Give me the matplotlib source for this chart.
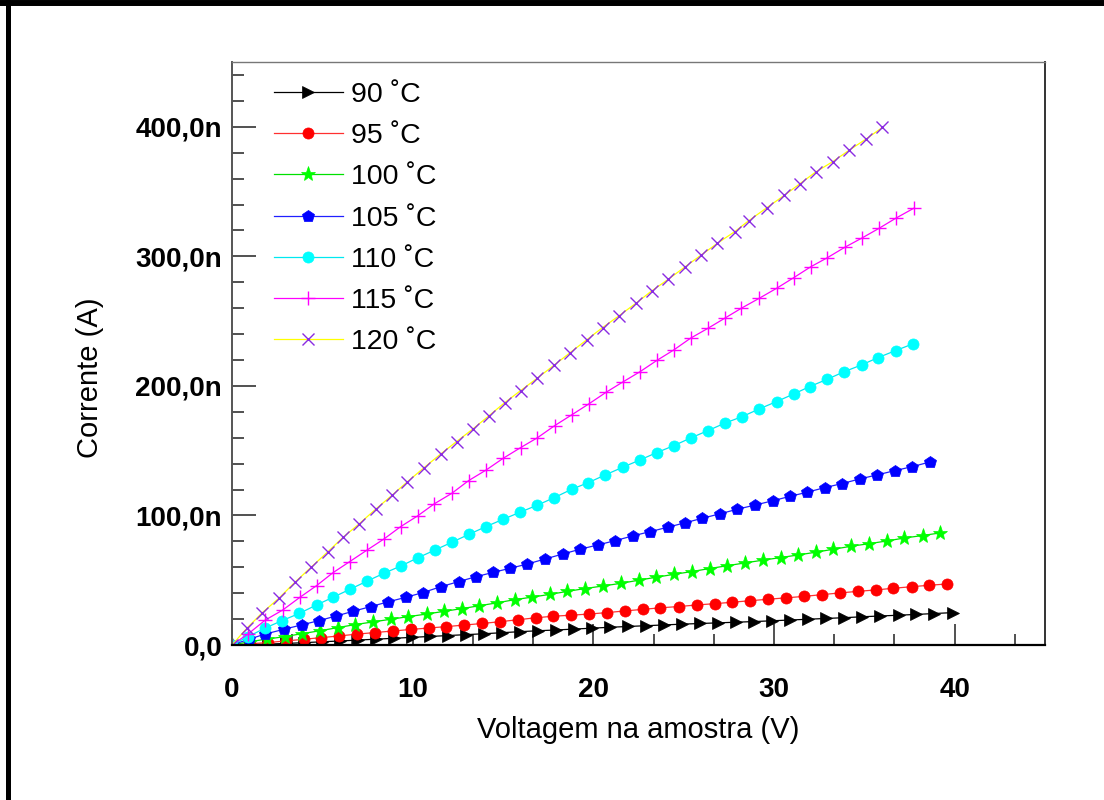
import matplotlib
matplotlib.use("Agg")
import matplotlib.pyplot as plt
from matplotlib.lines import Line2D
from matplotlib.ticker import MultipleLocator

plt.rcParams['font.family'] = ['Liberation Sans', 'DejaVu Sans']

# tensão na amostra (V) e corrente (nA) para cada temperatura
v90 = [0, 1.0, 2.0, 2.99, 3.99, 4.99, 5.98, 6.98, 7.98, 8.97, 9.97, 10.97, 11.96, 12.96,
       13.96, 14.95, 15.95, 16.95, 17.95, 18.94, 19.94, 20.94, 21.93, 22.93, 23.93, 24.92,
       25.92, 26.92, 27.91, 28.91, 29.91, 30.91, 31.9, 32.9, 33.9, 34.89, 35.89, 36.89,
       37.88, 38.88, 39.88]
i90 = [0, 0.3, 0.7, 1.2, 1.8, 2.5, 3.1, 3.8, 4.5, 5.2, 5.9, 6.6, 7.3, 8.0, 8.7, 9.5, 10.3,
       11.0, 11.6, 12.3, 13.0, 13.7, 14.3, 14.9, 15.5, 16.1, 16.6, 17.1, 17.6, 18.1, 18.7,
       19.3, 19.9, 20.5, 21.1, 21.8, 22.4, 23.0, 23.6, 24.3, 25.0]

v95 = [0, 0.99, 1.98, 2.97, 3.96, 4.95, 5.94, 6.92, 7.91, 8.9, 9.89, 10.88, 11.87, 12.86,
       13.85, 14.84, 15.83, 16.81, 17.77, 18.76, 19.77, 20.75, 21.75, 22.73, 23.71, 24.73,
       25.73, 26.71, 27.69, 28.69, 29.67, 30.65, 31.65, 32.67, 33.65, 34.63, 35.63, 36.61,
       37.62, 38.58, 39.57]
i95 = [0, 0.9, 1.9, 3.1, 4.4, 5.7, 7.0, 8.4, 9.6, 10.8, 12.0, 13.1, 14.2, 15.4, 16.6, 18.0,
       19.5, 21.0, 22.2, 23.0, 23.9, 25.0, 26.3, 27.5, 28.7, 29.7, 30.9, 31.9, 33.0, 34.2,
       35.3, 36.4, 37.5, 38.9, 40.2, 41.4, 42.5, 43.8, 45.0, 46.1, 47.1]

v100 = [0, 0.98, 1.96, 2.94, 3.9, 4.87, 5.85, 6.83, 7.8, 8.8, 9.77, 10.77, 11.75, 12.73,
        13.69, 14.65, 15.65, 16.63, 17.61, 18.57, 19.55, 20.55, 21.53, 22.51, 23.47, 24.45,
        25.45, 26.43, 27.41, 28.41, 29.39, 30.37, 31.34, 32.3, 33.28, 34.26, 35.26, 36.24,
        37.22, 38.22, 39.19]
i100 = [0, 2.6, 4.6, 6.5, 8.8, 11.0, 13.4, 15.8, 17.8, 19.9, 21.9, 23.9, 26.0, 28.1, 30.3,
        32.5, 35.0, 37.0, 39.1, 41.4, 43.6, 45.6, 47.6, 50.0, 52.3, 54.5, 56.7, 59.0, 61.2,
        63.4, 65.5, 67.5, 69.5, 71.6, 73.9, 76.2, 78.2, 80.3, 82.6, 84.5, 86.5]

v105 = [0, 0.95, 1.85, 2.87, 3.85, 4.81, 5.77, 6.7, 7.67, 8.64, 9.62, 10.58, 11.56, 12.54,
        13.5, 14.47, 15.39, 16.35, 17.33, 18.3, 19.26, 20.24, 21.22, 22.18, 23.14, 24.12,
        25.09, 26.03, 26.99, 27.97, 28.97, 29.95, 30.9, 31.83, 32.81, 33.77, 34.75, 35.71,
        36.69, 37.66, 38.64]
i105 = [0, 4.5, 8.5, 12.1, 15.5, 18.8, 22.4, 26.0, 29.6, 33.3, 36.8, 40.5, 45.0, 48.9, 52.7,
        56.1, 59.2, 62.5, 66.4, 70.2, 73.9, 77.2, 80.6, 84.2, 87.5, 90.9, 94.4, 97.8, 101.2,
        104.8, 108.1, 111.4, 114.8, 117.9, 121.5, 124.6, 128.2, 131.3, 134.6, 137.7, 141.3]

v110 = [0, 0.89, 1.81, 2.77, 3.73, 4.68, 5.59, 6.53, 7.49, 8.42, 9.38, 10.3, 11.25, 12.17,
        13.13, 14.06, 15.0, 15.95, 16.91, 17.83, 18.8, 19.72, 20.66, 21.63, 22.59, 23.51,
        24.46, 25.42, 26.35, 27.27, 28.24, 29.18, 30.14, 31.1, 31.98, 32.96, 33.89, 34.85,
        35.77, 36.74, 37.68]
i110 = [0, 6.4, 12.9, 18.8, 24.4, 30.9, 36.8, 43.0, 49.4, 55.4, 61.2, 67.4, 73.4, 79.3,
        85.5, 91.4, 97.0, 102.5, 108.0, 113.7, 120.2, 125.3, 131.3, 137.2, 142.9, 148.5,
        153.9, 160.0, 165.5, 171.2, 176.3, 182.2, 187.9, 193.8, 199.5, 205.2, 211.0, 216.2,
        221.9, 227.3, 232.4]

v115 = [0, 0.89, 1.85, 2.81, 3.76, 4.68, 5.59, 6.51, 7.49, 8.42, 9.34, 10.27, 11.19, 12.16,
        13.1, 14.06, 15.0, 15.98, 16.91, 17.87, 18.8, 19.74, 20.7, 21.63, 22.59, 23.51,
        24.46, 25.38, 26.35, 27.27, 28.2, 29.18, 30.14, 31.1, 32.04, 32.96, 33.92, 34.85,
        35.81, 36.75, 37.72]
i115 = [0, 8.5, 19.3, 27.0, 36.8, 45.8, 55.8, 64.3, 73.4, 81.9, 91.4, 99.6, 108.9, 117.0,
        126.9, 135.0, 144.0, 152.4, 160.0, 169.4, 177.6, 186.0, 195.0, 203.0, 211.0, 219.6,
        227.8, 236.8, 244.5, 252.2, 260.0, 267.6, 275.3, 283.6, 292.0, 299.0, 307.0, 314.0,
        321.6, 329.5, 337.0]

v120 = [0, 0.83, 1.66, 2.59, 3.48, 4.38, 5.31, 6.14, 7.03, 7.95, 8.88, 9.71, 10.64, 11.56,
        12.43, 13.32, 14.21, 15.09, 15.98, 16.9, 17.83, 18.72, 19.63, 20.51, 21.44, 22.36,
        23.23, 24.16, 25.05, 25.97, 26.86, 27.82, 28.6, 29.6, 30.56, 31.43, 32.3, 33.24,
        34.17, 35.09, 36.0]
i120 = [0, 13.0, 24.7, 36.0, 48.4, 60.0, 72.0, 83.0, 93.4, 104.8, 115.8, 126.0, 137.0,
        147.5, 157.0, 166.6, 176.8, 187.0, 196.4, 206.0, 216.0, 225.7, 235.5, 245.0, 254.3,
        263.8, 273.3, 282.4, 291.6, 301.0, 310.0, 319.0, 327.5, 337.5, 347.0, 356.0, 365.0,
        373.0, 382.0, 390.5, 399.5]

labels = ['90 ˚C', '95 ˚C', '100 ˚C', '105 ˚C', '110 ˚C', '115 ˚C', '120 ˚C']
x_ticks = [0, 10, 20, 30, 40]
y_ticks = [0, 100, 200, 300, 400]
y_tick_labels = ['0,0', '100,0n', '200,0n', '300,0n', '400,0n']

series = [
    (v90, i90, '>', 'black', 'black', 8),
    (v95, i95, 'o', 'red', '#ff3030', 8),
    (v100, i100, '*', '#00ff00', '#00e000', 11),
    (v105, i105, 'p', '#0000ff', '#2020ff', 9),
    (v110, i110, 'o', '#00ffff', '#00e8f0', 8),
    (v115, i115, '+', '#ff00ff', '#ff00ff', 10),
    (v120, i120, 'x', '#8a2be2', '#ffff00', 9),
]

fig = plt.figure(figsize=(11.04, 8), dpi=100)
ax = fig.add_axes([0.2101, 0.19375, 0.7365, 0.72875])

for (v, i, mk, mc, lc, ms), lab in zip(series, labels):
    ax.plot(v, i, color=lc, lw=0.9, marker=mk, ms=ms, mfc=mc, mec=mc,
            mew=1.0 if mk in '+x' else 0.5, label=lab)

ax.set_xlim(0, 45)
ax.set_ylim(0, 450)
ax.set_xticks(x_ticks)
ax.set_yticks(y_ticks)
ax.set_yticklabels(y_tick_labels)
ax.xaxis.set_minor_locator(MultipleLocator(10 / 3))
ax.yaxis.set_minor_locator(MultipleLocator(20))

ax.tick_params(axis='x', which='major', direction='in', length=15, width=1.2,
               pad=23, labelsize=20, color='#333333')
ax.tick_params(axis='x', which='minor', direction='in', length=8, width=1.2, color='#333333')
ax.tick_params(axis='y', which='major', direction='in', length=17, width=1.2,
               pad=7, labelsize=20, color='#333333')
ax.tick_params(axis='y', which='minor', direction='in', length=8.5, width=1.2, color='#333333')
for t in ax.get_xticklabels() + ax.get_yticklabels():
    t.set_fontweight('bold')

ax.spines['bottom'].set_linewidth(1.6)
ax.spines['bottom'].set_color('black')
ax.spines['left'].set_linewidth(1.4)
ax.spines['left'].set_color('#555555')
ax.spines['top'].set_linewidth(1.0)
ax.spines['top'].set_color('#777777')
ax.spines['right'].set_linewidth(1.4)
ax.spines['right'].set_color('#333333')

ax.set_xlabel('Voltagem na amostra (V)', fontsize=21, va='center')
ax.set_ylabel('Corrente (A)', fontsize=21, va='center')
ax.xaxis.set_label_coords(0.5, -0.146)
ax.yaxis.set_label_coords(-0.175, 0.458)

ax.legend(loc='upper left', bbox_to_anchor=(0.052, 0.966), frameon=False,
          fontsize=20.5, handlelength=2.4, handletextpad=0.3, labelspacing=0.535,
          borderpad=0, borderaxespad=0)

# moldura da figura (topo e lado esquerdo)
fig.add_artist(Line2D([0, 1], [1 - 3 / 800] * 2, transform=fig.transFigure,
                      color='black', lw=4.3))
fig.add_artist(Line2D([7.5 / 1104] * 2, [0, 1], transform=fig.transFigure,
                      color='black', lw=3.6))

fig.savefig('out.png', dpi=100)
